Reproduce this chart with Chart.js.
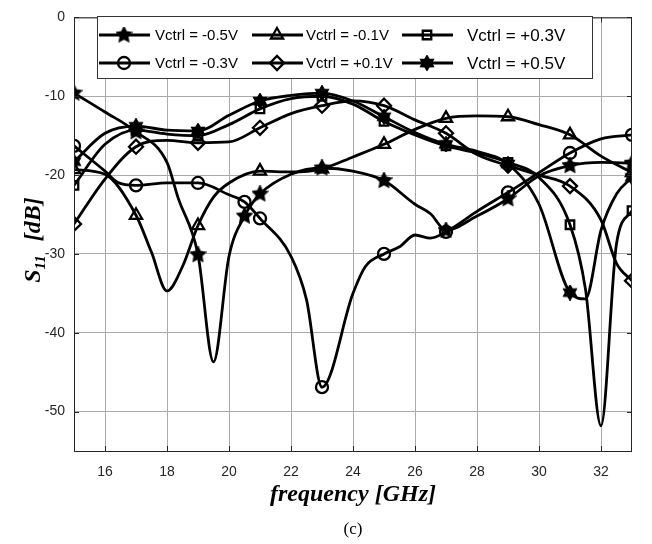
<!DOCTYPE html>
<html lang="en">
<head>
<meta charset="UTF-8">
<title>S11 vs frequency</title>
<script src="https://cdn.jsdelivr.net/npm/chart.js"></script>
<style>
  body { margin: 0; background: #fff; }
</style>
</head>
<body>
<canvas id="graficoS11" width="652" height="544"></canvas>
<script>
// curves: frequency (GHz) / S11 (dB)
var fM05 = [15, 16, 17, 18, 18.35, 19, 19.5, 20, 20.5, 21, 22, 23, 24, 25, 26, 26.5, 27, 28, 29, 30, 31, 32, 33];
var sM05 = [-9.6, -12, -14.5, -18.4, -22.8, -30.1, -43.7, -30.3, -25.2, -22.4, -19.9, -19.1, -19.5, -20.7, -23.7, -24.9, -27, -25.2, -23, -20.1, -18.8, -18.4, -18.5];

var fM03 = [15, 16, 16.4, 17, 18, 19, 20, 20.5, 21, 22, 22.5, 23, 24, 24.4, 25, 25.5, 26, 26.5, 27, 28, 29, 30, 31, 32, 33];
var sM03 = [-16.3, -19.5, -20.9, -21.3, -21, -21, -22.5, -23.4, -25.5, -30.3, -35.8, -46.9, -35, -31.6, -30, -29.1, -27.6, -28, -27.2, -24.6, -22.2, -19.7, -17.2, -15.4, -14.9];

var fM01 = [15, 16, 17, 17.5, 18, 18.5, 19, 19.5, 20, 21, 22, 23, 24, 25, 26, 27, 28, 29, 30, 31, 32, 33];
var sM01 = [-19.3, -19.9, -25.1, -29.8, -34.7, -31.6, -26.4, -22.8, -21, -19.5, -19.6, -19.2, -17.7, -16.1, -14.2, -12.8, -12.5, -12.6, -13.6, -14.9, -17.6, -19.7];

var fP01 = [15, 16, 17, 18, 19, 20, 21, 22, 23, 24, 25, 26, 27, 28, 29, 30, 31, 32, 32.5, 33];
var sP01 = [-26.2, -20.5, -16.4, -15.6, -15.9, -15.8, -14, -12.2, -11.2, -10.6, -11.2, -13, -14.7, -17.4, -18.8, -20, -21.4, -25.7, -31.2, -33.4];

var fP03 = [15, 16, 17, 18, 19, 20, 21, 22, 23, 24, 25, 26, 27, 28, 29, 30, 31, 31.5, 32, 32.5, 33];
var sP03 = [-21.3, -16.1, -14.3, -14.8, -15, -13.6, -11.6, -10.3, -10, -11, -13.2, -14.9, -16.3, -17.2, -18.4, -20.3, -26.3, -34.5, -51.8, -28.7, -24.5];

var fP05 = [15, 16, 17, 18, 19, 20, 21, 22, 23, 24, 25, 26, 27, 28, 29, 30, 31, 31.5, 32, 32.5, 33];
var sP05 = [-18.3, -14.7, -13.8, -14.3, -14.4, -12.4, -10.6, -9.9, -9.6, -10.6, -12.6, -14.6, -16.1, -17, -18.6, -23.7, -34.9, -35.7, -27, -22.4, -20.3];

// frequencies carrying a marker
var markFreq = [15, 17, 19, 21, 23, 25, 27, 29, 31, 33];
var markFreqExtra = [15, 17, 19, 20.5, 21, 23, 25, 27, 29, 31, 33];

var labels = ['Vctrl = -0.5V', 'Vctrl = -0.3V', 'Vctrl = -0.1V', 'Vctrl = +0.1V', 'Vctrl = +0.3V', 'Vctrl = +0.5V'];
var xTicks = [16, 18, 20, 22, 24, 26, 28, 30, 32];
var yTicks = [-50, -40, -30, -20, -10, 0];

// filled star markers (pentagram / hexagram)
function estrella(n, size) {
    var c = document.createElement('canvas');
    c.width = c.height = size;
    var g = c.getContext('2d');
    var R = size / 2 - 1, r = R * (n === 5 ? 0.5 : 0.6);
    g.beginPath();
    for (var i = 0; i < 2 * n; i++) {
        var a = -Math.PI / 2 + i * Math.PI / n;
        var rad = i % 2 ? r : R;
        g.lineTo(size / 2 + rad * Math.cos(a), size / 2 + rad * Math.sin(a));
    }
    g.closePath();
    g.fillStyle = '#000';
    g.strokeStyle = '#000';
    g.lineWidth = 1.8;
    g.fill();
    g.stroke();
    return c;
}
var pentagrama = estrella(5, 17);
var hexagrama = estrella(6, 16);

function serie(label, f, s, marks, style, radius) {
    return {
        label: label,
        data: f.map(function (x, i) { return { x: x, y: s[i] }; }),
        borderColor: '#000',
        backgroundColor: 'rgba(0,0,0,0)',
        borderWidth: 2.8,
        cubicInterpolationMode: 'monotone',
        pointStyle: style,
        markRadius: radius,
        pointRadius: function (c) { return c.raw && marks.indexOf(c.raw.x) >= 0 ? radius : 0; },
        pointHoverRadius: 0,
        pointBorderWidth: 2.3,
        pointBorderColor: '#000',
        pointBackgroundColor: 'rgba(0,0,0,0)'
    };
}

var datasets = [
    serie(labels[0], fM05, sM05, markFreqExtra, pentagrama, 6),
    serie(labels[1], fM03, sM03, markFreqExtra, 'circle', 6),
    serie(labels[2], fM01, sM01, markFreq, 'triangle', 7),
    serie(labels[3], fP01, sP01, markFreq, 'rectRot', 7),
    serie(labels[4], fP03, sP03, markFreq, 'rect', 6),
    serie(labels[5], fP05, sP05, markFreq, hexagrama, 6)
];

// box, inner ticks, titles and legend like the original figure
var extras = {
    id: 'extras',
    afterDraw: function (chart) {
        var ctx = chart.ctx, a = chart.chartArea;
        var sx = chart.scales.x, sy = chart.scales.y;
        ctx.save();
        ctx.strokeStyle = '#262626';
        ctx.lineWidth = 1;
        ctx.strokeRect(a.left + 0.5, a.top + 0.5, a.right - a.left - 1, a.bottom - a.top);
        ctx.beginPath();
        xTicks.forEach(function (v) {
            var px = Math.round(sx.getPixelForValue(v)) + 0.5;
            ctx.moveTo(px, a.bottom); ctx.lineTo(px, a.bottom - 5);
            ctx.moveTo(px, a.top); ctx.lineTo(px, a.top + 5);
        });
        yTicks.forEach(function (v) {
            var py = Math.round(sy.getPixelForValue(v)) + 0.5;
            ctx.moveTo(a.left, py); ctx.lineTo(a.left + 5, py);
            ctx.moveTo(a.right, py); ctx.lineTo(a.right - 5, py);
        });
        ctx.stroke();

        // x title and caption
        ctx.fillStyle = '#000';
        ctx.textAlign = 'center';
        ctx.textBaseline = 'middle';
        ctx.font = 'italic bold 24px "Liberation Serif"';
        ctx.fillText('frequency [GHz]', (a.left + a.right) / 2, 495);
        ctx.font = '17px "Liberation Serif"';
        ctx.fillText('(c)', (a.left + a.right) / 2, 530);

        // y title with subscript
        ctx.save();
        ctx.translate(32, 240);
        ctx.rotate(-Math.PI / 2);
        ctx.textAlign = 'left';
        ctx.textBaseline = 'alphabetic';
        var fBig = 'italic bold 24px "Liberation Serif"', fSub = 'italic bold 15px "Liberation Serif"';
        ctx.font = fBig; var wS = ctx.measureText('S').width;
        ctx.font = fSub; var w11 = ctx.measureText('11').width;
        ctx.font = fBig; var wDb = ctx.measureText('[dB]').width;
        var gap = 14, total = wS + w11 + gap + wDb, x0 = -total / 2;
        ctx.font = fBig; ctx.fillText('S', x0, 8);
        ctx.font = fSub; ctx.fillText('11', x0 + wS, 13);
        ctx.font = fBig; ctx.fillText('[dB]', x0 + wS + w11 + gap, 8);
        ctx.restore();

        // legend
        ctx.fillStyle = '#fff';
        ctx.fillRect(97, 16, 495, 62);
        ctx.strokeStyle = '#333';
        ctx.strokeRect(97.5, 16.5, 495, 62);
        var order = [[0, 2, 4], [1, 3, 5]];
        var rowY = [35, 63], lineX = [99, 252, 402], textX = [155, 306, 467], fontSz = [15, 15, 17];
        order.forEach(function (row, r) {
            row.forEach(function (di, c) {
                var ds = chart.data.datasets[di];
                var y = rowY[r];
                ctx.strokeStyle = '#000';
                ctx.lineWidth = 2.8;
                ctx.beginPath();
                ctx.moveTo(lineX[c], y); ctx.lineTo(lineX[c] + 51, y);
                ctx.stroke();
                ctx.fillStyle = 'rgba(0,0,0,0)';
                ctx.lineWidth = 2.3;
                Chart.helpers.drawPoint(ctx, {
                    pointStyle: ds.pointStyle,
                    radius: ds.markRadius,
                    borderWidth: 2.3,
                    rotation: 0
                }, lineX[c] + 25, y);
                ctx.fillStyle = '#000';
                ctx.textAlign = 'left';
                ctx.textBaseline = 'middle';
                ctx.font = fontSz[c] + 'px "Liberation Sans"';
                ctx.fillText(ds.label, textX[c], y + 1);
            });
        });
        ctx.restore();
    }
};

new Chart(document.getElementById('graficoS11').getContext('2d'), {
    type: 'line',
    data: { datasets: datasets },
    options: {
        responsive: false,
        animation: false,
        layout: { padding: { left: 0, right: 20, top: 11, bottom: 0 } },
        plugins: { legend: { display: false }, tooltip: { enabled: false } },
        scales: {
            x: {
                type: 'linear',
                min: 15,
                max: 33,
                afterBuildTicks: function (s) { s.ticks = xTicks.map(function (v) { return { value: v }; }); },
                afterFit: function (s) { s.height = 93; },
                grid: { color: '#aaaaaa', lineWidth: 1, drawTicks: false },
                border: { display: false },
                ticks: { padding: 13, color: '#262626', font: { family: 'Liberation Sans', size: 14 } }
            },
            y: {
                min: -55,
                max: 0,
                afterBuildTicks: function (s) { s.ticks = yTicks.map(function (v) { return { value: v }; }); },
                afterFit: function (s) { s.width = 74; },
                grid: { color: '#aaaaaa', lineWidth: 1, drawTicks: false },
                border: { display: false },
                ticks: { padding: 9, color: '#262626', font: { family: 'Liberation Sans', size: 14 } }
            }
        }
    },
    plugins: [extras]
});
</script>
</body>
</html>
